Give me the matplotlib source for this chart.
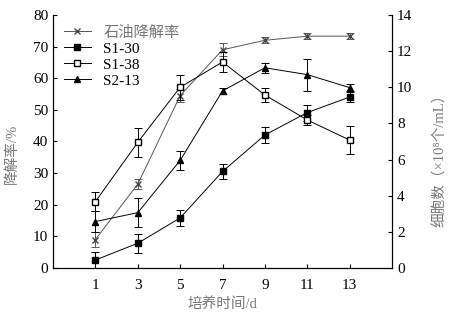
import matplotlib.pyplot as plt

plt.rcParams['font.family'] = ['Liberation Serif', 'Noto Sans CJK SC']

days = [1, 3, 5, 7, 9, 11, 13]

# 石油降解率 (%)
degr = [9.0, 26.5, 54.5, 69.0, 72.0, 73.3, 73.3]
degr_err = [2.5, 1.5, 2.0, 2.0, 1.0, 1.0, 1.0]

# cell counts (x10^8 /mL)
s1_30 = [0.44, 1.37, 2.77, 5.34, 7.36, 8.6, 9.46]
s1_30_err = [0.47, 0.53, 0.44, 0.44, 0.44, 0.44, 0.26]
s1_38 = [3.67, 6.95, 10.0, 11.4, 9.57, 8.19, 7.08]
s1_38_err = [0.53, 0.79, 0.7, 0.53, 0.39, 0.26, 0.75]
s2_13 = [2.57, 3.06, 5.95, 9.8, 11.08, 10.7, 9.98]
s2_13_err = [0.6, 0.79, 0.53, 0.18, 0.27, 0.88, 0.18]

fig = plt.figure(figsize=(4.58, 3.25), dpi=100)
ax = fig.add_axes([0.1157, 0.1754, 0.7403, 0.7785])
ax2 = ax.twinx()

ekw = dict(lw=0.7, capsize=3, elinewidth=0.7, capthick=0.7)
h1 = ax.errorbar(days, degr, yerr=degr_err, marker='x', ms=5, mfc='none', mec='#444444',
                 color='#555555', **ekw)
h2 = ax2.errorbar(days, s1_30, yerr=s1_30_err, marker='s', ms=5, mfc='black', mec='black',
                  color='black', **ekw)
h3 = ax2.errorbar(days, s1_38, yerr=s1_38_err, marker='s', ms=5, mfc='white', mec='black',
                  color='black', **ekw)
h4 = ax2.errorbar(days, s2_13, yerr=s2_13_err, marker='^', ms=5, mfc='black', mec='black',
                  color='black', **ekw)

ax.set_xlim(-1, 15)
ax.set_ylim(0, 80)
ax2.set_ylim(0, 14)
ax.set_xticks(days)
ax.set_yticks(range(0, 81, 10))
ax2.set_yticks(range(0, 15, 2))

for a in (ax, ax2):
    a.spines['top'].set_visible(False)
    a.tick_params(direction='in', length=3, width=0.8, labelsize=11)
ax.tick_params(axis='x', pad=8)

ax.set_xlabel('培养时间/d', color='#777777', fontsize=10.5)
ax.set_ylabel('降解率/%', color='#777777', fontsize=10.5, labelpad=2)
ax2.set_ylabel('细胞数（×10⁸个/mL）', color='#777777', fontsize=10.5, labelpad=4)
ax.yaxis.set_label_coords(-0.1, 0.45)
ax2.yaxis.set_label_coords(1.12, 0.44)

leg = ax.legend(handles=[h[0] for h in (h1, h2, h3, h4)],
                labels=['石油降解率', 'S1-30', 'S1-38', 'S2-13'],
                loc='upper left', frameon=False, fontsize=11,
                handlelength=1.8, borderaxespad=0.3, labelspacing=0.15)
leg.get_texts()[0].set_color('#777777')

fig.savefig('out.png', dpi=100)
